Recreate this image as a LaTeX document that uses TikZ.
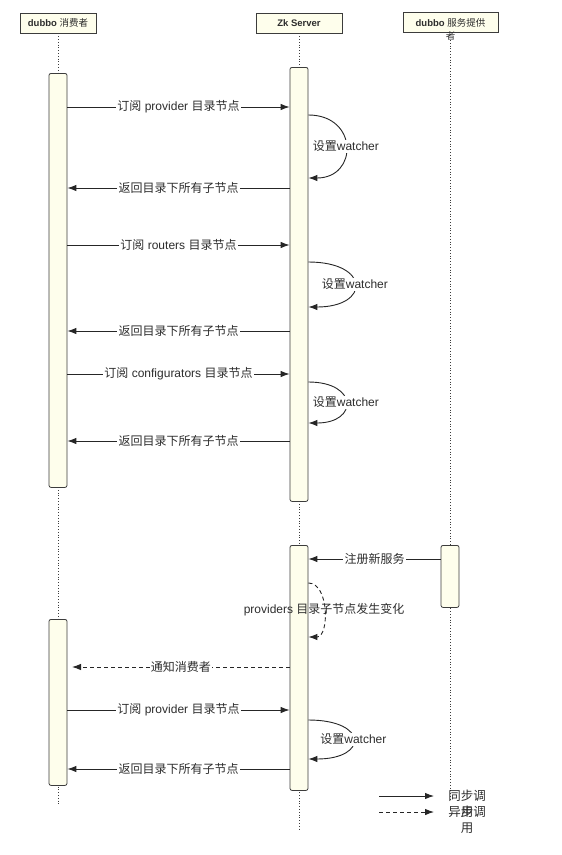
\documentclass[tikz,border=0pt]{standalone}
\usepackage{fontspec}
\setmainfont{Liberation Sans}
\newfontfamily\cjk{Noto Sans CJK SC}
\newcommand{\z}[1]{{\cjk #1}}
\usetikzlibrary{arrows.meta}
\definecolor{cream}{RGB}{254,254,236}
\definecolor{edge}{RGB}{60,60,60}
\definecolor{txt}{RGB}{45,45,45}
\begin{document}
\begin{tikzpicture}[x=1pt,y=-1pt,
  head/.style={draw=edge, fill=cream, line width=0.8pt, inner sep=0pt, minimum height=20pt},
  headtxt/.style={text=txt, inner sep=0pt, font=\fontsize{9.5}{10}\selectfont\bfseries},
  act/.style={draw=edge, fill=cream, line width=0.8pt, rounded corners=2pt, minimum width=18pt, inner sep=0pt, anchor=north},
  life/.style={draw=edge, line width=0.7pt, dash pattern=on 0.8pt off 2pt},
  msg/.style={draw=black!85, line width=0.9pt, -{Latex[length=9pt,width=6.5pt]}},
  amsg/.style={msg, dash pattern=on 4pt off 3pt},
  lbl/.style={fill=white, inner sep=1.2pt, text=txt, font=\fontsize{12}{13}\selectfont},
  legtxt/.style={text=txt, inner sep=0pt, font=\fontsize{12.5}{13}\selectfont},
]
\useasboundingbox (0,0) rectangle (562,855);

% headers
\node[head, minimum width=76pt] (h1) at (58,23) {};
\node[headtxt] (h1t) at (h1.center) {dubbo \z{\mdseries 消费者}};
\node[head, minimum width=86pt] (h2) at (299,23) {};
\node[headtxt] (h2t) at (h2.center) {Zk Server};
\node[head, minimum width=95pt] (h3) at (450.5,22.5) {};
\node[headtxt] (h3t) at (450.5,22.5) {dubbo \z{\mdseries 服务提供}};
\node[headtxt] (h3u) at (450.5,35.5) {\z{\mdseries 者}};

% lifelines
\coordinate (e1) at (58,805);
\coordinate (e2) at (299,830);
\coordinate (e3) at (450.5,800);
\draw[life] (h1.south) -- (e1);
\draw[life] (h2.south) -- (e2);
\draw[life] (h3u.south) -- (e3);

% activation boxes
\node[act, minimum height=414pt] (c1) at (58,73) {};
\node[act, minimum height=434pt] (s1) at (299,67) {};
\node[act, minimum height=245pt] (s2) at (299,545) {};
\node[act, minimum height=62pt] (p1) at (450,545) {};
\node[act, minimum height=166pt] (c2) at (58,619) {};

% message rows
\coordinate (y1) at (0,107);
\coordinate (y2a) at (0,115);
\coordinate (y2b) at (0,178);
\coordinate (y3) at (0,188);
\coordinate (y4) at (0,245);
\coordinate (y5a) at (0,262);
\coordinate (y5b) at (0,307);
\coordinate (y6) at (0,331);
\coordinate (y7) at (0,374);
\coordinate (y8a) at (0,382);
\coordinate (y8b) at (0,423);
\coordinate (y9) at (0,441);
\coordinate (y10) at (0,559);
\coordinate (y11a) at (0,583);
\coordinate (y11b) at (0,637);
\coordinate (y12) at (0,667);
\coordinate (y13) at (0,710);
\coordinate (y14a) at (0,720);
\coordinate (y14b) at (0,759);
\coordinate (y15) at (0,769);
\coordinate (n12) at (72,667);

\draw[msg] (c1.east |- y1) -- node[lbl]{\z{订阅} provider \z{目录节点}} (s1.west |- y1);
\draw[msg] (s1.east |- y2a) .. controls +(50,0) and +(50,0) .. node[lbl]{\z{设置}watcher} (s1.east |- y2b);
\draw[msg] (s1.west |- y3) -- node[lbl]{\z{返回目录下所有子节点}} (c1.east |- y3);

\draw[msg] (c1.east |- y4) -- node[lbl]{\z{订阅} routers \z{目录节点}} (s1.west |- y4);
\draw[msg] (s1.east |- y5a) .. controls +(62,0) and +(62,0) .. node[lbl]{\z{设置}watcher} (s1.east |- y5b);
\draw[msg] (s1.west |- y6) -- node[lbl]{\z{返回目录下所有子节点}} (c1.east |- y6);

\draw[msg] (c1.east |- y7) -- node[lbl]{\z{订阅} configurators \z{目录节点}} (s1.west |- y7);
\draw[msg] (s1.east |- y8a) .. controls +(50,0) and +(50,0) .. node[lbl]{\z{设置}watcher} (s1.east |- y8b);
\draw[msg] (s1.west |- y9) -- node[lbl]{\z{返回目录下所有子节点}} (c1.east |- y9);

\draw[msg] (p1.west |- y10) -- node[lbl]{\z{注册新服务}} (s2.east |- y10);
\draw[amsg] (s2.east |- y11a) .. controls +(21,0) and +(21,0) .. node[lbl, fill=none]{providers \z{目录子节点发生变化}} (s2.east |- y11b);
\draw[amsg] (s2.west |- y12) -- node[lbl]{\z{通知消费者}} (n12);

\draw[msg] (c2.east |- y13) -- node[lbl]{\z{订阅} provider \z{目录节点}} (s2.west |- y13);
\draw[msg] (s2.east |- y14a) .. controls +(60,0) and +(60,0) .. node[lbl]{\z{设置}watcher} (s2.east |- y14b);
\draw[msg] (s2.west |- y15) -- node[lbl]{\z{返回目录下所有子节点}} (c2.east |- y15);

% legend
\coordinate (la1) at (379,796);
\coordinate (lb1) at (434,796);
\coordinate (la2) at (379,812);
\coordinate (lb2) at (434,812);
\draw[msg] (la1) -- (lb1);
\draw[amsg] (la2) -- (lb2);
\node[legtxt] (lt1) at (467,796) {\z{同步调}};
\node[legtxt] (lt1b) at (467,812) {\z{用}};
\node[legtxt] (lt2) at (467,812) {\z{异步调}};
\node[legtxt] (lt2b) at (467,828) {\z{用}};
\end{tikzpicture}
\end{document}
